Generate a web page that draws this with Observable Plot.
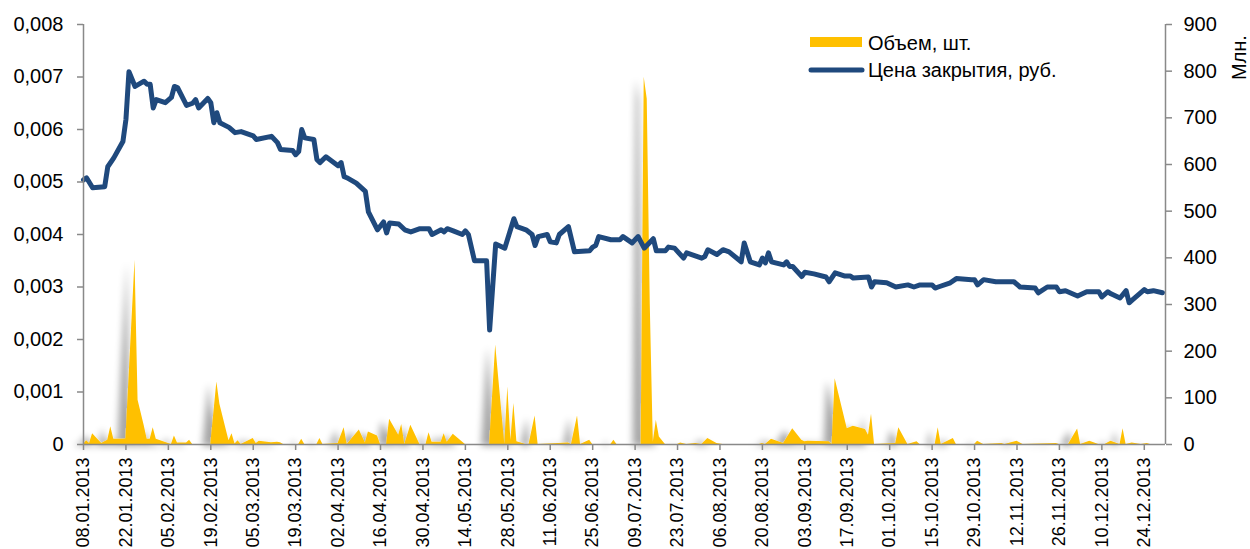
<!DOCTYPE html>
<html><head><meta charset="utf-8">
<script src="https://cdn.jsdelivr.net/npm/d3@7"></script>
<script src="https://cdn.jsdelivr.net/npm/@observablehq/plot@0.6"></script>
<style>
html,body{margin:0;padding:0;background:#fff;}
#chart{position:relative;width:1250px;height:549px;overflow:hidden;}
svg{font-family:"Liberation Sans",Arial,sans-serif;}
</style></head><body><div id="chart"></div>
<script>
// Closing price, rub.
const priceDates = [
"2013-01-08","2013-01-09","2013-01-11","2013-01-15","2013-01-16","2013-01-18","2013-01-21","2013-01-22","2013-01-23","2013-01-25",
"2013-01-28","2013-01-29","2013-01-30","2013-01-31","2013-02-01","2013-02-04","2013-02-06","2013-02-07","2013-02-08","2013-02-11",
"2013-02-13","2013-02-14","2013-02-15","2013-02-18","2013-02-19","2013-02-20","2013-02-21","2013-02-22","2013-02-25","2013-02-27",
"2013-03-01","2013-03-05","2013-03-06","2013-03-11","2013-03-13","2013-03-14","2013-03-18","2013-03-19","2013-03-20","2013-03-21",
"2013-03-22","2013-03-25","2013-03-26","2013-03-27","2013-03-29","2013-04-02","2013-04-03","2013-04-04","2013-04-05","2013-04-08",
"2013-04-11","2013-04-12","2013-04-15","2013-04-17","2013-04-18","2013-04-19","2013-04-22","2013-04-24","2013-04-26","2013-04-29",
"2013-05-02","2013-05-03","2013-05-06","2013-05-07","2013-05-08","2013-05-10","2013-05-13","2013-05-14","2013-05-15","2013-05-17",
"2013-05-21","2013-05-22","2013-05-24","2013-05-27","2013-05-30","2013-05-31","2013-06-03","2013-06-05","2013-06-06","2013-06-07",
"2013-06-10","2013-06-11","2013-06-13","2013-06-14","2013-06-17","2013-06-19","2013-06-24","2013-06-25","2013-06-26","2013-06-27",
"2013-07-01","2013-07-04","2013-07-05","2013-07-08","2013-07-10","2013-07-12","2013-07-15","2013-07-16","2013-07-19","2013-07-20",
"2013-07-22","2013-07-25","2013-07-26","2013-07-31","2013-08-01","2013-08-02","2013-08-05","2013-08-07","2013-08-09","2013-08-13",
"2013-08-14","2013-08-16","2013-08-19","2013-08-20","2013-08-21","2013-08-22","2013-08-23","2013-08-27","2013-08-28","2013-08-29",
"2013-08-30","2013-09-02","2013-09-03","2013-09-06","2013-09-10","2013-09-11","2013-09-13","2013-09-16","2013-09-18","2013-09-19",
"2013-09-24","2013-09-25","2013-09-26","2013-09-30","2013-10-03","2013-10-07","2013-10-09","2013-10-11","2013-10-15","2013-10-16",
"2013-10-17","2013-10-21","2013-10-23","2013-10-28","2013-10-29","2013-10-30","2013-11-01","2013-11-05","2013-11-11","2013-11-13",
"2013-11-18","2013-11-19","2013-11-22","2013-11-25","2013-11-26","2013-11-28","2013-12-02","2013-12-05","2013-12-09","2013-12-10",
"2013-12-12","2013-12-13","2013-12-16","2013-12-18","2013-12-19","2013-12-20","2013-12-24","2013-12-25","2013-12-27","2013-12-30"];
const priceValues = [
0.00504,0.00508,0.00489,0.00491,0.00529,0.00546,0.00577,0.00619,0.00710,0.00682,
0.00692,0.00686,0.00686,0.00641,0.00657,0.00651,0.00661,0.00682,0.00680,0.00646,
0.00650,0.00657,0.00641,0.00659,0.00651,0.00613,0.00632,0.00613,0.00604,0.00594,
0.00596,0.00588,0.00581,0.00587,0.00575,0.00562,0.00560,0.00552,0.00558,0.00600,
0.00584,0.00581,0.00543,0.00537,0.00548,0.00531,0.00537,0.00510,0.00508,0.00498,
0.00482,0.00443,0.00409,0.00424,0.00403,0.00422,0.00420,0.00409,0.00405,0.00411,
0.00411,0.00400,0.00409,0.00405,0.00411,0.00407,0.00400,0.00407,0.00400,0.00350,
0.00350,0.00218,0.00382,0.00374,0.00430,0.00415,0.00409,0.00400,0.00379,0.00396,
0.00400,0.00386,0.00384,0.00400,0.00415,0.00367,0.00369,0.00376,0.00379,0.00396,
0.00390,0.00390,0.00396,0.00384,0.00396,0.00374,0.00392,0.00369,0.00369,0.00376,
0.00374,0.00355,0.00365,0.00355,0.00358,0.00371,0.00362,0.00371,0.00367,0.00348,
0.00384,0.00348,0.00342,0.00355,0.00346,0.00365,0.00348,0.00342,0.00348,0.00339,
0.00339,0.00320,0.00328,0.00325,0.00319,0.00310,0.00327,0.00321,0.00321,0.00317,
0.00319,0.00300,0.00310,0.00308,0.00300,0.00304,0.00300,0.00304,0.00304,0.00298,
0.00300,0.00308,0.00316,0.00314,0.00314,0.00304,0.00314,0.00310,0.00310,0.00300,
0.00298,0.00289,0.00300,0.00300,0.00291,0.00293,0.00283,0.00291,0.00291,0.00281,
0.00291,0.00287,0.00279,0.00293,0.00270,0.00275,0.00295,0.00291,0.00293,0.00289];

// Volume, mln pcs
const volumeDates = [
"2013-01-08","2013-01-09","2013-01-10","2013-01-11","2013-01-14","2013-01-16","2013-01-17","2013-01-18","2013-01-21","2013-01-22",
"2013-01-25","2013-01-26","2013-01-28","2013-01-29","2013-01-30","2013-01-31","2013-02-01","2013-02-06","2013-02-07","2013-02-08",
"2013-02-11","2013-02-12","2013-02-13","2013-02-19","2013-02-21","2013-02-22","2013-02-25","2013-02-26","2013-02-27","2013-02-28",
"2013-03-01","2013-03-05","2013-03-06","2013-03-07","2013-03-11","2013-03-13","2013-03-14","2013-03-15","2013-03-20","2013-03-21",
"2013-03-22","2013-03-26","2013-03-27","2013-03-28","2013-04-02","2013-04-04","2013-04-05","2013-04-09","2013-04-11","2013-04-12",
"2013-04-15","2013-04-16","2013-04-18","2013-04-19","2013-04-22","2013-04-23","2013-04-24","2013-04-26","2013-04-29","2013-05-01",
"2013-05-02","2013-05-03","2013-05-06","2013-05-07","2013-05-08","2013-05-10","2013-05-14","2013-05-22","2013-05-24","2013-05-27",
"2013-05-28","2013-05-29","2013-05-30","2013-05-31","2013-06-03","2013-06-04","2013-06-06","2013-06-07","2013-06-17","2013-06-18",
"2013-06-20","2013-06-21","2013-06-24","2013-06-25","2013-07-01","2013-07-02","2013-07-03","2013-07-11","2013-07-12","2013-07-13",
"2013-07-14","2013-07-15","2013-07-16","2013-07-17","2013-07-19","2013-07-23","2013-07-24","2013-07-26","2013-07-29","2013-07-31",
"2013-08-02","2013-08-05","2013-08-07","2013-08-19","2013-08-20","2013-08-21","2013-08-23","2013-08-27","2013-08-30","2013-09-02",
"2013-09-03","2013-09-04","2013-09-11","2013-09-12","2013-09-13","2013-09-17","2013-09-19","2013-09-23","2013-09-24","2013-09-25",
"2013-09-26","2013-10-03","2013-10-04","2013-10-07","2013-10-10","2013-10-11","2013-10-16","2013-10-17","2013-10-18","2013-10-22",
"2013-10-23","2013-10-29","2013-10-30","2013-11-01","2013-11-07","2013-11-08","2013-11-12","2013-11-14","2013-11-25","2013-11-26",
"2013-11-29","2013-12-02","2013-12-03","2013-12-06","2013-12-09","2013-12-11","2013-12-13","2013-12-16","2013-12-17","2013-12-18",
"2013-12-20","2013-12-23","2013-12-25","2013-12-26","2013-12-30"];
const volumeValues = [
0,8,2,23,2,9,38,11,11,12,
395,95,41,11,11,36,11,0,18,3,
3,9,0,0,134,86,8,23,1,8,
0,13,2,7,4,5,4,0,0,11,
0,0,13,0,2,36,0,31,3,27,
18,0,0,54,20,43,0,41,0,0,
25,5,5,23,5,22,0,0,213,0,
123,9,88,6,0,0,61,0,3,0,
61,0,9,0,0,9,0,0,787,740,
300,5,52,16,0,0,3,0,2,0,
13,2,0,0,2,0,11,2,34,9,
6,7,6,0,141,34,39,32,20,65,
0,2,36,0,6,0,0,36,0,13,
0,0,7,0,2,0,7,0,2,0,
0,33,0,7,0,0,7,0,34,0,
3,0,2,0,0];

const xTickLabels = ["08.01.2013","22.01.2013","05.02.2013","19.02.2013","05.03.2013","19.03.2013","02.04.2013","16.04.2013","30.04.2013","14.05.2013","28.05.2013","11.06.2013","25.06.2013","09.07.2013","23.07.2013","06.08.2013","20.08.2013","03.09.2013","17.09.2013","01.10.2013","15.10.2013","29.10.2013","12.11.2013","26.11.2013","10.12.2013","24.12.2013"];
const leftTicks = [0,0.001,0.002,0.003,0.004,0.005,0.006,0.007,0.008];
const rightTicks = [0,100,200,300,400,500,600,700,800,900];
const legendLabels = ["Объем, шт.","Цена закрытия, руб."];
const rightAxisTitle = "Млн.";

const PMAX = 0.008, VMAX = 900, k = PMAX / VMAX;
const parse = s => new Date(s + "T00:00:00Z");
const priceData = priceDates.map((d, i) => ({date: parse(d), value: priceValues[i]}));
const volData = volumeDates.map((d, i) => ({date: parse(d), value: volumeValues[i] * k}));
const xTicks = xTickLabels.map(s => { const [dd, mm, yy] = s.split("."); return new Date(Date.UTC(+yy, +mm - 1, +dd)); });
const fmtDate = d3.utcFormat("%d.%m.%Y");
const x0 = parse("2013-01-08"), x1 = parse("2013-12-31");
const AX = "#898989";

const chart = Plot.plot({
  width: 1250, height: 549,
  marginLeft: 83, marginRight: 85, marginTop: 24, marginBottom: 105,
  style: {fontFamily: '"Liberation Sans", Arial, sans-serif', fontSize: "20px", color: "#000", background: "#fff", overflow: "visible"},
  x: {type: "utc", domain: [x0, x1]},
  y: {domain: [0, PMAX]},
  marks: [
    Plot.areaY(volData, {x: "date", y: "value", fill: "#FFC000", curve: "linear"}),
    Plot.line(priceData, {x: "date", y: "value", stroke: "#1F497D", strokeWidth: 5, strokeLinejoin: "round", strokeLinecap: "round"}),
    Plot.ruleY([0], {stroke: AX, strokeWidth: 1.5}),
    Plot.ruleX([x0, x1], {stroke: AX, strokeWidth: 1.5}),
    Plot.axisY({anchor: "left", ticks: leftTicks, tickFormat: d => d === 0 ? "0" : d.toFixed(3).replace(".", ","), tickSize: 6, tickPadding: 14, label: null, stroke: AX, strokeWidth: 1.5, fill: "#000"}),
    Plot.axisY({anchor: "right", ticks: rightTicks.map(v => v * k), tickFormat: d => String(Math.round(d / k)), tickSize: 6, tickPadding: 12, label: null, stroke: AX, strokeWidth: 1.5, fill: "#000"}),
    Plot.axisX({ticks: xTicks, tickFormat: fmtDate, tickRotate: -90, textAnchor: "end", fontSize: 18, tickSize: 6, tickPadding: 7, label: null, stroke: AX, strokeWidth: 1.5, fill: "#000"})
  ]
});
document.getElementById("chart").appendChild(chart);

const svg = d3.select(chart);
const defs = svg.insert("defs", ":first-child");
const f = defs.append("filter").attr("id", "shadow").attr("filterUnits", "userSpaceOnUse")
  .attr("x", 0).attr("y", 0).attr("width", 1250).attr("height", 549);
f.append("feGaussianBlur").attr("in", "SourceAlpha").attr("stdDeviation", 3.5).attr("result", "blur");
f.append("feOffset").attr("in", "blur").attr("dx", -8).attr("dy", 2).attr("result", "off");
f.append("feComponentTransfer").attr("in", "off").attr("result", "sh").append("feFuncA").attr("type", "linear").attr("slope", 0.35);
const m = f.append("feMerge");
m.append("feMergeNode").attr("in", "sh");
m.append("feMergeNode").attr("in", "SourceGraphic");
svg.select('g[aria-label="area"]').attr("filter", "url(#shadow)");

// legend
const lg = svg.append("g").attr("font-size", 20).attr("fill", "#000").attr("text-anchor", "start");
lg.append("rect").attr("x", 810).attr("y", 37).attr("width", 52).attr("height", 10).attr("fill", "#FFC000");
lg.append("line").attr("x1", 811).attr("x2", 862).attr("y1", 70).attr("y2", 70).attr("stroke", "#1F497D").attr("stroke-width", 5).attr("stroke-linecap", "round");
lg.append("text").attr("x", 868).attr("y", 50).text(legendLabels[0]);
lg.append("text").attr("x", 868).attr("y", 77).text(legendLabels[1]);
svg.append("text").attr("x", 1246).attr("y", 80).attr("transform", "rotate(-90,1246,80)")
  .attr("font-size", 20).attr("fill", "#000").attr("text-anchor", "start").text(rightAxisTitle);
</script></body></html>
